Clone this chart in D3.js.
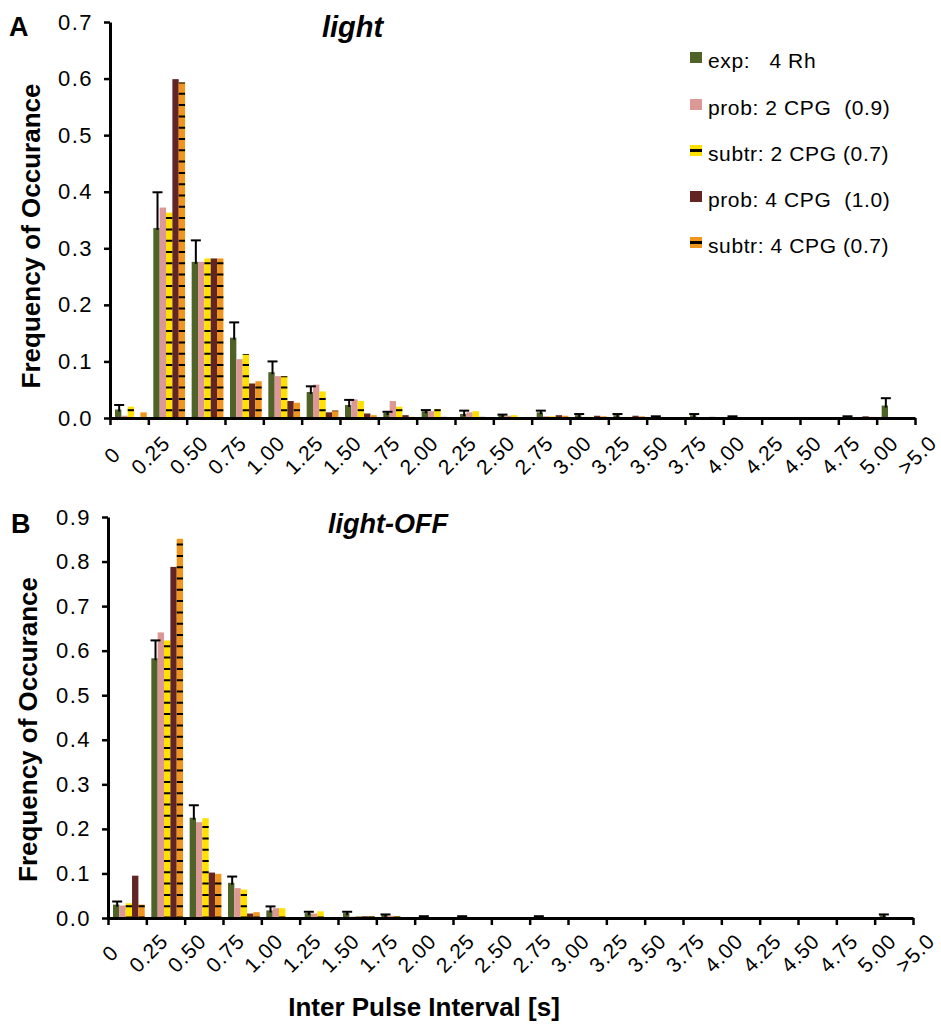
<!DOCTYPE html>
<html>
<head>
<meta charset="utf-8">
<script src="https://cdn.jsdelivr.net/npm/d3@7"></script>
<style>
  body { margin: 0; background: #fff; }
  svg text { font-family: "Liberation Sans", Arial, sans-serif; fill: #000; }
</style>
</head>
<body>
<div id="chart"></div>
<script>
// bin labels (22 labels on the 22 bin boundaries, 21 bins)
const binLabels = ["0", "0.25", "0.50", "0.75", "1.00", "1.25", "1.50", "1.75", "2.00", "2.25", "2.50",
  "2.75", "3.00", "3.25", "3.50", "3.75", "4.00", "4.25", "4.50", "4.75", "5.00", ">5.0"];

const seriesNames = ["exp", "prob2", "subtr2", "prob4", "subtr4"];
const legendLabels = ["exp:   4 Rh", "prob: 2 CPG  (0.9)", "subtr: 2 CPG (0.7)", "prob: 4 CPG  (1.0)", "subtr: 4 CPG (0.7)"];
const colors = ["#4f6228", "#dc9896", "#ffe000", "#632523", "#f0961e"];
const striped = [false, false, true, false, true];

// panel A: light
const lightExp =    [0.015, 0.336, 0.276, 0.142, 0.081, 0.046, 0.023, 0.009, 0.012, 0.007, 0.005, 0.010, 0.005, 0.005, 0.002, 0.005, 0.002, 0, 0, 0.002, 0.022];
const lightExpErr = [0.008, 0.063, 0.038, 0.027, 0.019, 0.010, 0.009, 0.002, 0.002, 0.006, 0.001, 0.003, 0.002, 0.002, 0.001, 0.002, 0.001, 0, 0, 0.001, 0.013];
const lightProb2 =  [0.004, 0.372, 0.276, 0.104, 0.074, 0.059, 0.033, 0.030, 0.012, 0.010, 0.004, 0.003, 0.002, 0.002, 0.002, 0.001, 0.001, 0, 0, 0, 0];
const lightSubtr2 = [0.020, 0.363, 0.282, 0.113, 0.074, 0.047, 0.030, 0.020, 0.016, 0.012, 0.005, 0.003, 0.002, 0.002, 0.001, 0.001, 0, 0, 0, 0, 0];
const lightProb4 =  [0, 0.599, 0.282, 0.061, 0.030, 0.010, 0.008, 0.005, 0.002, 0.002, 0.001, 0.005, 0.004, 0.004, 0.001, 0.002, 0, 0, 0, 0.003, 0];
const lightSubtr4 = [0.010, 0.593, 0.282, 0.065, 0.027, 0.013, 0.005, 0.002, 0.001, 0.001, 0.001, 0.004, 0.003, 0.003, 0, 0.001, 0, 0, 0, 0.002, 0];

// panel B: light-OFF
const offExp =    [0.030, 0.583, 0.225, 0.079, 0.017, 0.011, 0.011, 0.007, 0.003, 0.003, 0.001, 0.003, 0, 0, 0, 0, 0, 0, 0, 0, 0.006];
const offExpErr = [0.007, 0.040, 0.028, 0.014, 0.009, 0.003, 0.003, 0.001, 0.001, 0.001, 0, 0.001, 0, 0, 0, 0, 0, 0, 0, 0, 0.002];
const offProb2 =  [0.028, 0.641, 0.215, 0.067, 0.022, 0.010, 0.003, 0.005, 0.001, 0.001, 0, 0.001, 0, 0, 0, 0, 0, 0, 0, 0, 0];
const offSubtr2 = [0.033, 0.623, 0.224, 0.064, 0.022, 0.015, 0.003, 0.004, 0.001, 0.001, 0, 0, 0, 0, 0, 0, 0, 0, 0, 0, 0];
const offProb4 =  [0.095, 0.788, 0.102, 0.010, 0, 0, 0.004, 0.002, 0, 0, 0, 0, 0, 0, 0, 0, 0, 0, 0, 0, 0];
const offSubtr4 = [0.030, 0.851, 0.099, 0.013, 0, 0, 0.004, 0.001, 0, 0, 0, 0, 0, 0, 0, 0, 0, 0, 0, 0, 0];

const svg = d3.select("#chart").append("svg")
    .attr("width", 941)
    .attr("height", 1024);

const nBins = binLabels.length - 1;

function drawPanel(opt) {
    const g = svg.append("g");
    const bins = d3.range(nBins);

    const xTick = d3.scaleLinear().domain([0, nBins]).range([opt.left, opt.right]);
    const x0 = d3.scaleBand().domain(bins).range([opt.left, opt.right]);
    const x1 = d3.scaleBand().domain(seriesNames).range([5, x0.bandwidth() - 1.6]);
    const y = d3.scaleLinear().domain([0, opt.yMax]).range([opt.bottom, opt.top]);

    const rows = bins.map(i => ({bin: i, vals: opt.series.map(s => s[i])}));

    const groups = g.selectAll(".grp")
        .data(rows)
        .join("g")
        .attr("class", "grp")
        .attr("transform", d => `translate(${x0(d.bin)},0)`);

    groups.selectAll("rect")
        .data(d => d.vals.map((v, k) => ({v: v, k: k})))
        .join("rect")
        .attr("x", d => x1(seriesNames[d.k]))
        .attr("width", x1.bandwidth())
        .attr("y", d => y(d.v))
        .attr("height", d => y(0) - y(d.v))
        .attr("fill", d => colors[d.k]);

    // black dashes inside the striped bars
    groups.selectAll("line.dash")
        .data(d => d.vals.map((v, k) => ({v: v, k: k})).filter(d => striped[d.k] && d.v > 0))
        .join("line")
        .attr("class", "dash")
        .attr("x1", d => x1(seriesNames[d.k]) + x1.bandwidth() / 2)
        .attr("x2", d => x1(seriesNames[d.k]) + x1.bandwidth() / 2)
        .attr("y1", y(0))
        .attr("y2", d => y(d.v))
        .attr("stroke", "#000")
        .attr("stroke-width", x1.bandwidth())
        .attr("stroke-dasharray", "2 9.3")
        .attr("stroke-dashoffset", opt.dashOffset);

    // error bars on the experimental data
    const errX = x1("exp") + x1.bandwidth() / 2 + 1;
    groups.filter(d => opt.err[d.bin] > 0).each(function(d) {
        const top = y(d.vals[0] + opt.err[d.bin]);
        const sel = d3.select(this);
        sel.append("line")
            .attr("x1", errX).attr("x2", errX)
            .attr("y1", y(d.vals[0]) + 2).attr("y2", top)
            .attr("stroke", "#000").attr("stroke-width", 2);
        sel.append("line")
            .attr("x1", errX - 5).attr("x2", errX + 5)
            .attr("y1", top).attr("y2", top)
            .attr("stroke", "#000").attr("stroke-width", 2);
    });

    // y axis
    const yAxis = g.append("g")
        .attr("transform", `translate(${opt.left},0)`)
        .call(d3.axisLeft(y)
            .tickValues(d3.range(0, opt.yMax + 0.001, 0.1))
            .tickFormat(d3.format(".1f"))
            .tickSize(6)
            .tickSizeOuter(0)
            .tickPadding(11));
    yAxis.attr("font-size", null).attr("font-family", null);
    yAxis.select(".domain").attr("stroke-width", 3);
    yAxis.selectAll(".tick line").attr("stroke-width", 2.5);
    yAxis.selectAll("text")
        .style("font-size", "22px")
        .style("letter-spacing", "1.5px");

    // x axis: line, ticks on the boundaries, rotated labels
    const xAxis = g.append("g")
        .attr("transform", `translate(0,${opt.bottom})`)
        .call(d3.axisBottom(xTick)
            .tickValues(d3.range(nBins + 1))
            .tickFormat("")
            .tickSize(7)
            .tickSizeOuter(0));
    xAxis.select(".domain").attr("stroke-width", 3);
    xAxis.selectAll(".tick line").attr("stroke-width", 2.5);

    g.selectAll(".xlab")
        .data(binLabels)
        .join("text")
        .attr("class", "xlab")
        .attr("text-anchor", "middle")
        .attr("dominant-baseline", "central")
        .attr("transform", (d, i) => `translate(${xTick(i) + 2},${opt.bottom + opt.labelDy}) rotate(-45)`)
        .style("font-size", "21px")
        .style("letter-spacing", "0.8px")
        .text(d => d);

    // y title
    g.append("text")
        .attr("transform", `translate(${opt.yTitleX},${(opt.top + opt.bottom) / 2 + opt.yTitleDy}) rotate(-90)`)
        .attr("text-anchor", "middle")
        .style("font-size", "26px")
        .style("font-weight", "bold")
        .text("Frequency of Occurance");

    // panel letter and title
    g.append("text")
        .attr("x", opt.letterX).attr("y", opt.letterY)
        .style("font-size", "27px")
        .style("font-weight", "bold")
        .text(opt.letter);
    g.append("text")
        .attr("x", opt.titleX).attr("y", opt.titleY)
        .style("font-size", opt.titleSize)
        .style("font-weight", "bold")
        .style("font-style", "italic")
        .text(opt.title);
}

drawPanel({
    left: 110, right: 915, top: 22, bottom: 418, yMax: 0.7,
    series: [lightExp, lightProb2, lightSubtr2, lightProb4, lightSubtr4],
    err: lightExpErr,
    dashOffset: 4.5, labelDy: 37,
    yTitleX: 40, yTitleDy: 16,
    letter: "A", letterX: 9, letterY: 36,
    title: "light", titleX: 322, titleY: 37, titleSize: "29px"
});

drawPanel({
    left: 108, right: 913, top: 517, bottom: 918, yMax: 0.9,
    series: [offExp, offProb2, offSubtr2, offProb4, offSubtr4],
    err: offExpErr,
    dashOffset: 0.5, labelDy: 35,
    yTitleX: 37, yTitleDy: 12,
    letter: "B", letterX: 11, letterY: 533,
    title: "light-OFF", titleX: 328, titleY: 533, titleSize: "27px"
});

// x title
svg.append("text")
    .attr("x", 424).attr("y", 1016)
    .attr("text-anchor", "middle")
    .style("font-size", "26px")
    .style("font-weight", "bold")
    .text("Inter Pulse Interval [s]");

// legend
const legend = svg.append("g").attr("transform", "translate(690,0)");
const legendY = [68, 115, 161, 207, 253];
legendLabels.forEach((lab, k) => {
    const row = legend.append("g").attr("transform", `translate(0,${legendY[k]})`);
    row.append("rect")
        .attr("x", 0).attr("y", -16)
        .attr("width", 12).attr("height", 11)
        .attr("fill", colors[k]);
    if (striped[k]) {
        row.append("rect")
            .attr("x", 0).attr("y", -12)
            .attr("width", 12).attr("height", 3)
            .attr("fill", "#000");
    }
    row.append("text")
        .attr("x", 18).attr("y", 0)
        .style("font-size", "21px")
        .style("letter-spacing", "0.6px")
        .style("white-space", "pre")
        .text(lab);
});
</script>
</body>
</html>
